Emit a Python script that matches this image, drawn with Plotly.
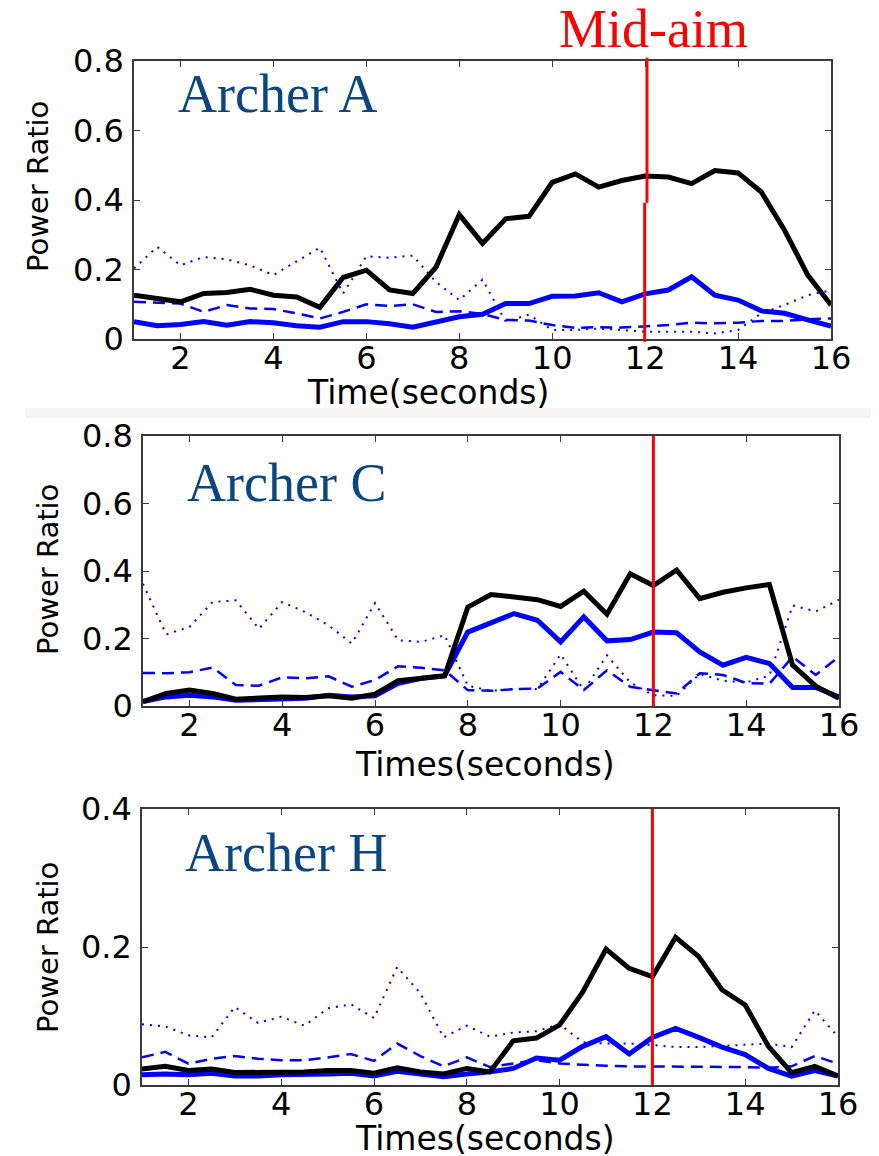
import plotly.graph_objects as go

# page is 879x1156 but the html body has an 8px margin
PAGE_OFF = 8
W, H = 879 - PAGE_OFF, 1156 - PAGE_OFF

# ---------------- data ----------------
t = [1, 1.5, 2, 2.5, 3, 3.5, 4, 4.5, 5, 5.5, 6, 6.5, 7, 7.5, 8, 8.5,
     9, 9.5, 10, 10.5, 11, 11.5, 12, 12.5, 13, 13.5, 14, 14.5, 15, 15.5, 16]

black_A = [0.126, 0.117, 0.107, 0.131, 0.134, 0.143, 0.126, 0.121, 0.091, 0.177, 0.198, 0.141, 0.131, 0.207, 0.358, 0.275,
           0.346, 0.353, 0.451, 0.475, 0.437, 0.456, 0.469, 0.466, 0.447, 0.485, 0.478, 0.423, 0.313, 0.184, 0.098]
blue_A = [0.050, 0.038, 0.042, 0.050, 0.040, 0.050, 0.047, 0.038, 0.034, 0.050, 0.050, 0.044, 0.034, 0.050, 0.064, 0.071,
          0.102, 0.102, 0.123, 0.124, 0.133, 0.107, 0.130, 0.141, 0.179, 0.126, 0.112, 0.081, 0.074, 0.055, 0.037]
dash_A = [0.107, 0.105, 0.102, 0.078, 0.098, 0.088, 0.086, 0.074, 0.059, 0.078, 0.100, 0.095, 0.100, 0.078, 0.080, 0.072,
          0.055, 0.053, 0.040, 0.032, 0.034, 0.033, 0.036, 0.040, 0.047, 0.045, 0.047, 0.052, 0.052, 0.057, 0.059]
dot_A = [0.203, 0.265, 0.212, 0.236, 0.229, 0.212, 0.184, 0.224, 0.263, 0.131, 0.238, 0.234, 0.240, 0.164, 0.112, 0.171,
         0.050, 0.070, 0.026, 0.026, 0.030, 0.026, 0.021, 0.021, 0.021, 0.016, 0.026, 0.074, 0.098, 0.126, 0.140]

black_C = [0.013, 0.037, 0.047, 0.037, 0.020, 0.023, 0.027, 0.025, 0.030, 0.023, 0.035, 0.075, 0.082, 0.089, 0.293, 0.330,
           0.323, 0.315, 0.295, 0.340, 0.272, 0.392, 0.357, 0.403, 0.318, 0.337, 0.350, 0.360, 0.121, 0.059, 0.023]
blue_C = [0.013, 0.027, 0.032, 0.027, 0.017, 0.019, 0.023, 0.023, 0.032, 0.027, 0.030, 0.067, 0.082, 0.090, 0.219, 0.245,
          0.274, 0.254, 0.190, 0.264, 0.193, 0.197, 0.219, 0.217, 0.160, 0.121, 0.144, 0.126, 0.055, 0.055, 0.027]
dash_C = [0.098, 0.097, 0.100, 0.114, 0.062, 0.060, 0.085, 0.082, 0.088, 0.057, 0.077, 0.118, 0.113, 0.106, 0.047, 0.045,
          0.050, 0.052, 0.101, 0.047, 0.106, 0.057, 0.047, 0.037, 0.097, 0.092, 0.068, 0.066, 0.146, 0.092, 0.146]
dot_C = [0.362, 0.212, 0.234, 0.308, 0.313, 0.229, 0.308, 0.278, 0.239, 0.185, 0.305, 0.195, 0.190, 0.210, 0.060, 0.045,
         0.050, 0.050, 0.153, 0.047, 0.150, 0.070, 0.032, 0.030, 0.095, 0.075, 0.070, 0.090, 0.298, 0.280, 0.315]

black_H = [0.023, 0.027, 0.021, 0.023, 0.018, 0.018, 0.019, 0.019, 0.021, 0.021, 0.017, 0.025, 0.019, 0.016, 0.024, 0.019,
           0.064, 0.068, 0.087, 0.135, 0.197, 0.169, 0.157, 0.214, 0.186, 0.138, 0.116, 0.056, 0.018, 0.027, 0.013]
blue_H = [0.015, 0.016, 0.015, 0.017, 0.013, 0.013, 0.015, 0.015, 0.016, 0.017, 0.013, 0.020, 0.016, 0.012, 0.016, 0.019,
          0.024, 0.039, 0.036, 0.056, 0.070, 0.045, 0.069, 0.082, 0.069, 0.055, 0.044, 0.024, 0.013, 0.021, 0.013]
dash_H = [0.040, 0.048, 0.031, 0.038, 0.042, 0.038, 0.036, 0.036, 0.040, 0.045, 0.035, 0.060, 0.042, 0.027, 0.040, 0.026,
          0.031, 0.036, 0.031, 0.029, 0.028, 0.027, 0.027, 0.027, 0.027, 0.026, 0.026, 0.025, 0.027, 0.042, 0.031]
dot_H = [0.088, 0.085, 0.072, 0.069, 0.113, 0.090, 0.099, 0.086, 0.111, 0.117, 0.097, 0.171, 0.133, 0.069, 0.086, 0.070,
         0.076, 0.078, 0.088, 0.062, 0.060, 0.060, 0.058, 0.055, 0.055, 0.057, 0.058, 0.060, 0.055, 0.108, 0.070]

x_ticks = [2, 4, 6, 8, 10, 12, 14, 16]
y_ticks_big = [0, 0.2, 0.4, 0.6, 0.8]
y_ticks_small = [0, 0.2, 0.4]
y_ticktext_big = ["0", "0.2", "0.4", "0.6", "0.8"]
y_ticktext_small = ["0", "0.2", "0.4"]

panel_names = ["Archer A", "Archer C", "Archer H"]
x_titles = ["Time(seconds)", "Times(seconds)", "Times(seconds)"]
y_title = "Power Ratio"
mid_aim_label = "Mid-aim"
mid_aim_time = 12

panels = [
    dict(black=black_A, blue=blue_A, dash=dash_A, dot=dot_A, ymax=0.8,
         yticks=y_ticks_big, ytext=y_ticktext_big,
         box=(134, 831, 61, 339)),
    dict(black=black_C, blue=blue_C, dash=dash_C, dot=dot_C, ymax=0.8,
         yticks=y_ticks_big, ytext=y_ticktext_big,
         box=(143, 839, 436, 706)),
    dict(black=black_H, blue=blue_H, dash=dash_H, dot=dot_H, ymax=0.4,
         yticks=y_ticks_small, ytext=y_ticktext_small,
         box=(142, 838, 809, 1085)),
]


def fx(p):
    return (p - PAGE_OFF) / W


def fy(p):
    return 1 - (p - PAGE_OFF) / H


BLUE = "#0000ff"
FRAME = "#3a3a3a"
TICKFONT = dict(family="DejaVu Sans", size=32, color="black")

fig = go.Figure()
layout = dict(
    template="none",
    width=W, height=H, margin=dict(l=0, r=0, t=0, b=0, pad=0),
    paper_bgcolor="white", plot_bgcolor="white", showlegend=False,
)

for i, p in enumerate(panels):
    n = "" if i == 0 else str(i + 1)
    xa, ya = "x" + n, "y" + n
    styles = [
        ("dot", dict(color=BLUE, width=2, dash="2px,6px")),
        ("dash", dict(color=BLUE, width=2.5, dash="12px,7px")),
        ("blue", dict(color=BLUE, width=5)),
        ("black", dict(color="black", width=5)),
    ]
    for key, ln in styles:
        fig.add_trace(go.Scatter(x=t, y=p[key], mode="lines", line=ln,
                                 xaxis=xa, yaxis=ya, hoverinfo="skip"))
    x0, x1, y0, y1 = p["box"]
    layout["xaxis" + n] = dict(
        domain=[fx(x0), fx(x1)], range=[1, 16], anchor=ya, automargin=False,
        tickvals=x_ticks, ticks="inside", ticklen=6, tickwidth=1.3,
        tickcolor=FRAME, showline=True, linecolor=FRAME, linewidth=1.5,
        mirror="ticks", showgrid=False, zeroline=False, tickfont=TICKFONT,
        ticklabelstandoff=-10,
    )
    layout["yaxis" + n] = dict(
        domain=[fy(y1), fy(y0)], range=[0, p["ymax"]], anchor=xa, automargin=False,
        tickvals=p["yticks"], ticktext=p["ytext"], ticks="inside", ticklen=6,
        tickwidth=1.3, tickcolor=FRAME, showline=True, linecolor=FRAME,
        linewidth=1.5, mirror="ticks", showgrid=False, zeroline=False,
        tickfont=TICKFONT, ticklabelstandoff=2,
    )

fig.update_layout(**layout)

# red mid-aim lines
shapes = [
    dict(type="line", xref="x", yref="y domain", x0=12.04, x1=12.04, y0=0.49, y1=1.012,
         line=dict(color="#ff0000", width=3)),
    dict(type="line", xref="x", yref="y domain", x0=11.99, x1=11.99, y0=-0.01, y1=0.49,
         line=dict(color="#ff0000", width=3)),
    dict(type="line", xref="x2", yref="y2 domain", x0=mid_aim_time, x1=mid_aim_time, y0=0, y1=1,
         line=dict(color="#ff0000", width=3)),
    dict(type="line", xref="x3", yref="y3 domain", x0=mid_aim_time, x1=mid_aim_time, y0=0, y1=1,
         line=dict(color="#ff0000", width=3)),
    # faint separator band
    dict(type="rect", xref="paper", yref="paper", x0=fx(25), x1=1, y0=fy(418), y1=fy(408),
         fillcolor="#f6f4f1", line=dict(width=0), layer="below"),
]
fig.update_layout(shapes=shapes)

ann = []
# panel names
name_pos = [(176, 94), (185, 483), (183, 853)]
for name, (px, py) in zip(panel_names, name_pos):
    ann.append(dict(text=name, xref="paper", yref="paper", x=fx(px), y=fy(py),
                    xanchor="left", yanchor="middle", showarrow=False,
                    font=dict(family="Liberation Serif", size=54, color="#0b4680")))
# x titles
xt_pos = [(428, 392), (485, 764), (485, 1138)]
for txt, (px, py) in zip(x_titles, xt_pos):
    ann.append(dict(text=txt, xref="paper", yref="paper", x=fx(px), y=fy(py),
                    xanchor="center", yanchor="middle", showarrow=False, borderpad=0,
                    font=dict(family="DejaVu Sans", size=33, color="black")))
# y titles
yt_pos = [(38, 187), (48, 570), (48, 948)]
for (px, py) in yt_pos:
    ann.append(dict(text=y_title, xref="paper", yref="paper", x=fx(px), y=fy(py),
                    xanchor="center", yanchor="middle", showarrow=False, textangle=-90,
                    font=dict(family="DejaVu Sans", size=29, color="black")))
# mid-aim label
ann.append(dict(text=mid_aim_label, xref="paper", yref="paper", x=fx(653), y=fy(29),
                xanchor="center", yanchor="middle", showarrow=False, borderpad=0,
                font=dict(family="Liberation Serif", size=54, color="#ff0000")))
fig.update_layout(annotations=ann)

fig.write_html("out.html")
